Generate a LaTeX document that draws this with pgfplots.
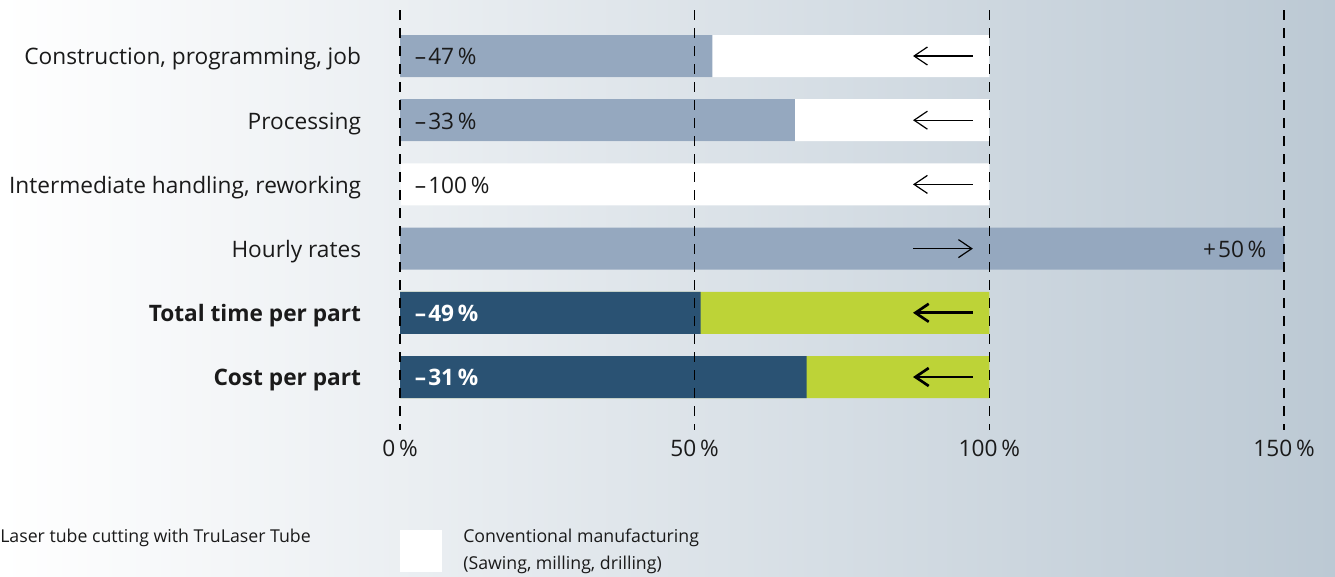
\documentclass[border=0pt]{standalone}
\usepackage{pgfplots}
\pgfplotsset{compat=1.18}
\usepackage{fontspec}
\setmainfont{Open Sans}
\usetikzlibrary{arrows.meta}

\definecolor{laser}{HTML}{95A8BF}
\definecolor{laserdark}{HTML}{2A5273}
\definecolor{convgreen}{HTML}{BDD337}
\definecolor{bgright}{HTML}{BCC9D4}
\definecolor{txt}{HTML}{1A1A1A}

\newcommand{\mainsize}{\fontsize{17}{20}\selectfont}
\newcommand{\mn}{–\kern1.5pt}

\begin{document}
\begin{tikzpicture}
% pixel grid of the reference: 1 px = 0.75 pt, y downwards
\begin{scope}[x=0.75pt,y=-0.75pt]
\useasboundingbox (0,0) rectangle (1335,577);
\shade[left color=white, right color=bgright] (0,0) rectangle (1335,577);
\end{scope}
\begin{axis}[
    at={(300pt,-322.5pt)}, anchor=south west,
    scale only axis, width=663pt, height=315pt,
    xmin=0, xmax=150,
    ymin=0.2835, ymax=6.8255, y dir=reverse,
    xbar, bar width=31.5pt, bar shift=0pt,
    axis line style={draw=none},
    major tick length=0pt,
    xtick={0,50,100,150},
    xticklabels={0\,\%,50\,\%,100\,\%,150\,\%},
    ytick={1,2,3,4,5,6},
    yticklabels={Construction{,} programming{,} job, Processing,
        Intermediate handling{,} reworking, Hourly rates,
        \textbf{Total time per part}, \textbf{Cost per part}},
    ticklabel style={font=\mainsize, text=txt, inner sep=0pt},
    yticklabel style={xshift=-29pt, yshift=-3pt, text height=0.72em, text depth=0pt},
    xticklabel style={yshift=-7pt},
    xmajorgrids,
    grid style={black, line width=1pt, dash pattern=on 7.5pt off 6pt},
    axis on top,
    clip=false,
]
% conventional manufacturing = 100 %
\addplot[fill=white, draw=none] coordinates {(100,1) (100,2) (100,3)};
\addplot[fill=convgreen, draw=none] coordinates {(100,5) (100,6)};
% laser tube cutting
\addplot[fill=laser, draw=none] coordinates {(53,1) (67,2) (0,3) (150,4)};
\addplot[fill=laserdark, draw=none] coordinates {(51,5) (69,6)};

\begin{scope}[every node/.style={font=\mainsize, text=txt, inner sep=0pt,
    text height=0.72em, text depth=0pt, yshift=-3pt}]
\node[anchor=west, xshift=11pt] at (axis cs:0,1) {\mn47\,\%};
\node[anchor=west, xshift=11pt] at (axis cs:0,2) {\mn33\,\%};
\node[anchor=west, xshift=11pt] at (axis cs:0,3) {\mn100\,\%};
\node[anchor=east, xshift=-13pt] at (axis cs:150,4) {+\kern1.5pt50\,\%};
\node[anchor=west, xshift=11pt, text=white, font=\mainsize\bfseries] at (axis cs:0,5) {\mn49\,\%};
\node[anchor=west, xshift=11pt, text=white, font=\mainsize\bfseries] at (axis cs:0,6) {\mn31\,\%};
\end{scope}

\begin{scope}[-{Straight Barb[length=10pt,width=13.5pt]}, black]
\draw[line width=0.9pt] (axis cs:97.2,1) -- (axis cs:87.05,1);
\draw[line width=0.9pt] (axis cs:97.2,2) -- (axis cs:87.05,2);
\draw[line width=0.9pt] (axis cs:97.2,3) -- (axis cs:87.05,3);
\draw[line width=0.9pt] (axis cs:87.05,4) -- (axis cs:97.2,4);
\draw[line width=2pt] (axis cs:97.2,5) -- (axis cs:87.05,5);
\draw[line width=2pt] (axis cs:97.2,6) -- (axis cs:87.05,6);
\end{scope}
\end{axis}

% legend
\begin{scope}[x=0.75pt,y=-0.75pt,
    every node/.style={font=\fontsize{13.3}{20}\selectfont, text=txt, inner sep=0pt}]
\node[anchor=west] at (0,538) {Laser tube cutting with TruLaser Tube};
\fill[white] (400,530) rectangle (442,572);
\node[anchor=west] at (463,538) {Conventional manufacturing};
\node[anchor=west] at (463,565) {(Sawing, milling, drilling)};
\end{scope}
\end{tikzpicture}
\end{document}
